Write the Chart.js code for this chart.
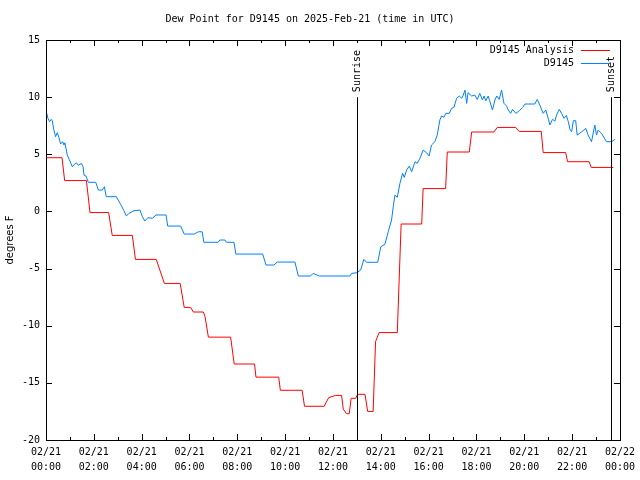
<!DOCTYPE html>
<html>
<head>
<meta charset="utf-8">
<script src="https://cdn.jsdelivr.net/npm/chart.js@4"></script>
<style>
  html, body { margin: 0; padding: 0; background: #fff; }
  #wrap { width: 640px; height: 480px; }
</style>
</head>
<body>
<div id="wrap"><canvas id="chart-dew" width="640" height="480"></canvas></div>
<script>
// hours since 02/21 00:00 UTC
let redHours = [0, 0.67, 0.78, 1.69, 1.84, 2.62, 2.77, 3.61, 3.74, 4.61, 4.95, 5.61, 5.78, 6.05, 6.16, 6.58, 6.65, 6.79,
  7.72, 7.87, 8.72, 8.78, 9.73, 9.8, 10.71, 10.81, 11.63, 11.82, 12.1, 12.36, 12.43, 12.57, 12.68, 12.76, 12.95, 13.03,
  13.34, 13.45, 13.68, 13.78, 13.93, 14.69, 14.85, 15.71, 15.77, 16.71, 16.78, 17.7, 17.8, 18.73, 18.87, 19.64, 19.79,
  20.71, 20.79, 21.73, 21.81, 22.71, 22.8, 23.72];
let redValues = [4.7, 4.7, 2.7, 2.7, -0.1, -0.1, -2.1, -2.1, -4.2, -4.2, -6.3, -6.3, -8.4, -8.4, -8.8, -8.8, -9.2, -11.0,
  -11.0, -13.35, -13.35, -14.5, -14.5, -15.65, -15.65, -17.05, -17.05, -16.3, -16.1, -16.1, -17.3, -17.7, -17.7, -16.35, -16.35, -16.0,
  -16.0, -17.5, -17.5, -11.4, -10.6, -10.6, -1.1, -1.1, 2.0, 2.0, 5.2, 5.2, 6.95, 6.95, 7.35, 7.35, 7.0,
  7.0, 5.15, 5.15, 4.35, 4.35, 3.85, 3.85];

let blueHours = [0.03, 0.08, 0.15, 0.22, 0.26, 0.33, 0.40, 0.47, 0.54, 0.61, 0.70, 0.75, 0.79, 0.89, 0.97, 1.10, 1.20, 1.27,
  1.35, 1.48, 1.55, 1.59, 1.67, 1.77, 2.08, 2.19, 2.35, 2.44, 2.52, 2.94, 3.12, 3.26, 3.36, 3.47, 3.68, 3.93, 4.03, 4.13,
  4.26, 4.45, 4.6, 5.02, 5.09, 5.63, 5.78, 6.2, 6.37, 6.53, 6.6, 7.2, 7.27, 7.48, 7.55, 7.86, 7.94, 9.06, 9.2, 9.53, 9.67,
  10.41, 10.55, 11.06, 11.17, 11.43, 12.71, 12.78, 13.01, 13.16, 13.29, 13.4, 13.87, 14.0, 14.17, 14.31, 14.45, 14.52,
  14.59, 14.69, 14.8, 14.91, 14.98, 15.08, 15.19, 15.29, 15.43, 15.52, 15.64, 15.77, 15.91, 16.02, 16.12, 16.26, 16.36,
  16.47, 16.54, 16.64, 16.72, 16.86, 16.96, 17.06, 17.17, 17.28, 17.38, 17.45, 17.52, 17.59, 17.65, 17.8, 17.93, 18.03,
  18.14, 18.25, 18.32, 18.39, 18.49, 18.55, 18.67, 18.77, 18.85, 18.95, 19.05, 19.15, 19.26, 19.33, 19.43, 19.51, 19.65,
  19.79, 19.93, 20.03, 20.44, 20.54, 20.65, 20.79, 20.9, 21.01, 21.07, 21.18, 21.28, 21.35, 21.46, 21.56, 21.66, 21.76,
  21.84, 21.91, 21.98, 22.05, 22.15, 22.21, 22.4, 22.57, 22.67, 22.81, 22.95, 23.02, 23.09, 23.23, 23.33, 23.44, 23.65, 23.79];
let blueValues = [8.6, 8.15, 7.85, 8.06, 7.94, 7.12, 6.54, 6.89, 6.48, 5.9, 6.1, 5.81, 6.0, 4.93, 4.56, 3.91, 4.15, 4.26,
  4.03, 4.2, 3.91, 3.18, 3.1, 2.55, 2.55, 1.87, 1.87, 2.16, 1.29, 1.29, 0.62, 0.06, -0.4, -0.17, 0.06, 0.12, -0.46, -0.84,
  -0.55, -0.6, -0.31, -0.31, -1.28, -1.28, -1.98, -1.98, -1.78, -1.78, -2.7, -2.7, -2.5, -2.5, -2.7, -2.7, -3.73, -3.73, -4.69, -4.69, -4.43,
  -4.43, -5.65, -5.65, -5.42, -5.65, -5.65, -5.42, -5.36, -5.12, -4.19, -4.45, -4.45, -3.09, -2.88, -1.78, -0.75, 0.41,
  1.43, 1.23, 2.46, 3.33, 2.98, 3.62, 3.97, 3.47, 4.35, 4.21, 4.65, 5.37, 5.14, 4.85, 5.81, 6.1, 6.68,
  8.0, 8.35, 8.23, 8.58, 8.58, 9.02, 9.1, 9.9, 10.1, 9.9, 10.18, 10.62, 9.46, 10.39, 10.1, 10.18, 9.8,
  10.33, 9.75, 10.1, 9.68, 10.1, 9.7, 8.87, 9.75, 10.1, 9.8, 10.62, 9.46, 9.22, 8.87, 8.58, 8.93, 8.58,
  8.81, 9.1, 9.4, 9.4, 9.8, 9.31, 8.58, 8.87, 8.06, 7.56, 8.06, 7.9, 8.43, 8.93, 8.58, 8.15, 8.4,
  7.85, 7.18, 6.97, 7.94, 7.94, 6.68, 6.97, 7.27, 6.68, 6.1, 7.56, 6.68, 7.12, 6.83, 6.48, 6.1, 6.1, 6.31];

let seriesNames = ["D9145 Analysis", "D9145"];
let seriesColors = ["#ff0000", "#0080ff"];
let sunHours = [13.0, 23.62];
let sunLabels = ["Sunrise", "Sunset"];
let sunTop = 10;
let yTicks = [-20, -15, -10, -5, 0, 5, 10, 15];

function toPoints(xs, ys) {
  return xs.map(function(x, i) { return { x: x, y: ys[i] }; });
}

function pad2(n) {
  return (n < 10 ? "0" : "") + n;
}

let mono = "'DejaVu Sans Mono', monospace";

let gnuplotFrame = {
  id: "gnuplotFrame",
  afterDatasetsDraw: function(chart) {
    let ctx = chart.ctx;
    let a = chart.chartArea;
    let xs = chart.scales.x;
    let ys = chart.scales.y;
    ctx.save();
    ctx.strokeStyle = "#000";
    ctx.lineWidth = 1;
    ctx.beginPath();
    // inward ticks
    yTicks.forEach(function(v) {
      let y = Math.round(ys.getPixelForValue(v)) + 0.5;
      ctx.moveTo(a.left, y); ctx.lineTo(a.left + 6, y);
      ctx.moveTo(a.right, y); ctx.lineTo(a.right - 6, y);
    });
    for (let h = 0; h <= 24; h++) {
      let x = Math.round(xs.getPixelForValue(h)) + 0.5;
      let len = h % 2 === 0 ? 6 : 3;
      ctx.moveTo(x, a.bottom); ctx.lineTo(x, a.bottom - len);
      ctx.moveTo(x, a.top); ctx.lineTo(x, a.top + len);
    }
    // sunrise / sunset
    sunHours.forEach(function(h) {
      let x = Math.round(xs.getPixelForValue(h)) + 0.5;
      ctx.moveTo(x, ys.getPixelForValue(sunTop));
      ctx.lineTo(x, a.bottom);
    });
    ctx.stroke();
    ctx.strokeRect(Math.round(a.left) + 0.5, Math.round(a.top) + 0.5,
      Math.round(a.right - a.left), Math.round(a.bottom - a.top));

    ctx.fillStyle = "#000";
    ctx.font = "10px " + mono;
    sunHours.forEach(function(h, i) {
      let x = xs.getPixelForValue(h);
      ctx.save();
      ctx.translate(x, ys.getPixelForValue(sunTop) - 5);
      ctx.rotate(-Math.PI / 2);
      ctx.textAlign = "left";
      ctx.textBaseline = "middle";
      ctx.fillText(sunLabels[i], 0, 1);
      ctx.restore();
    });

    // legend, top right inside the frame
    ctx.textAlign = "right";
    ctx.textBaseline = "middle";
    seriesNames.forEach(function(name, i) {
      let y = a.top + 10 + i * 13;
      ctx.fillStyle = "#000";
      ctx.fillText(name, a.right - 46, y);
      ctx.strokeStyle = seriesColors[i];
      ctx.beginPath();
      ctx.moveTo(a.right - 39, y + 0.5);
      ctx.lineTo(a.right - 10, y + 0.5);
      ctx.stroke();
    });
    ctx.restore();
  }
};

window.onload = function() {
  let ctx = document.getElementById("chart-dew").getContext("2d");
  window.dewChart = new Chart(ctx, {
    type: "line",
    data: {
      datasets: [
        {
          label: seriesNames[0],
          data: toPoints(redHours, redValues),
          borderColor: seriesColors[0],
          borderWidth: 1,
          pointRadius: 0,
          tension: 0
        },
        {
          label: seriesNames[1],
          data: toPoints(blueHours, blueValues),
          borderColor: seriesColors[1],
          borderWidth: 1,
          pointRadius: 0,
          tension: 0
        }
      ]
    },
    options: {
      responsive: false,
      animation: false,
      layout: { padding: { right: 20 } },
      plugins: {
        legend: { display: false },
        tooltip: { enabled: false },
        title: {
          display: true,
          text: "Dew Point for D9145 on 2025-Feb-21 (time in UTC)",
          color: "#000",
          font: { family: mono, size: 10, weight: "normal", lineHeight: 1.2 },
          padding: { top: 13, bottom: 15 }
        }
      },
      scales: {
        x: {
          type: "linear",
          min: 0,
          max: 24,
          grid: { display: false, drawTicks: false },
          border: { display: false },
          afterFit: function(scale) { scale.height = 40; },
          ticks: {
            stepSize: 2,
            autoSkip: false,
            maxRotation: 0,
            padding: 5,
            color: "#000",
            font: { family: mono, size: 10, lineHeight: 1.5 },
            callback: function(v) {
              let day = v >= 24 ? "02/22" : "02/21";
              return [day, pad2(v % 24) + ":00"];
            }
          }
        },
        y: {
          min: -20,
          max: 15,
          grid: { display: false, drawTicks: false },
          border: { display: false },
          afterFit: function(scale) { scale.width = 46; },
          ticks: {
            stepSize: 5,
            padding: 6,
            color: "#000",
            font: { family: mono, size: 10 }
          },
          title: {
            display: true,
            text: "degrees F",
            color: "#000",
            padding: 4,
            font: { family: "'DejaVu Sans', sans-serif", size: 10 }
          }
        }
      }
    },
    plugins: [gnuplotFrame]
  });
};
</script>
</body>
</html>
